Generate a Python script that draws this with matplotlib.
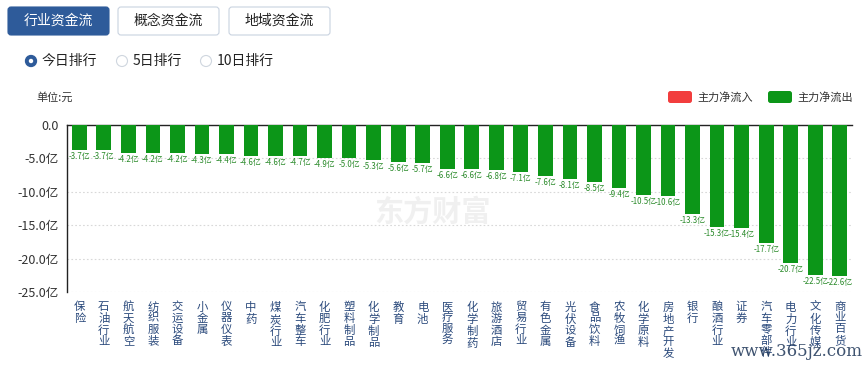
import matplotlib
matplotlib.use("Agg")
import matplotlib.pyplot as plt
from matplotlib.patches import FancyBboxPatch, Circle

plt.rcParams['font.family'] = ['Noto Sans CJK SC', 'DejaVu Sans']

industries = ['保险', '石油行业', '航天航空', '纺织服装', '交运设备', '小金属', '仪器仪表',
              '中药', '煤炭行业', '汽车整车', '化肥行业', '塑料制品', '化学制品', '教育',
              '电池', '医疗服务', '化学制药', '旅游酒店', '贸易行业', '有色金属', '光伏设备',
              '食品饮料', '农牧饲渔', '化学原料', '房地产开发', '银行', '酿酒行业', '证券',
              '汽车零部件', '电力行业', '文化传媒', '商业百货']
net_flow = [-3.7, -3.7, -4.2, -4.2, -4.2, -4.3, -4.4, -4.6, -4.6, -4.7, -4.9, -5.0,
            -5.3, -5.6, -5.7, -6.6, -6.6, -6.8, -7.1, -7.6, -8.1, -8.5, -9.4, -10.5,
            -10.6, -13.3, -15.3, -15.4, -17.7, -20.7, -22.5, -22.6]
yticks = [0, -5, -10, -15, -20, -25]
ytick_labels = ['0.0', '-5.0亿', '-10.0亿', '-15.0亿', '-20.0亿', '-25.0亿']
tabs = ['行业资金流', '概念资金流', '地域资金流']
ranks = ['今日排行', '5日排行', '10日排行']
legend_names = ['主力净流入', '主力净流出']

W, H = 868, 367
GREEN = '#0c9618'
RED = '#f23d3d'
NAVY = '#2b4a7c'
BLUE = '#2e5b9a'

fig = plt.figure(figsize=(W / 100, H / 100), dpi=100)

# background axes in pixel units (origin top-left) for the page widgets
bg = fig.add_axes([0, 0, 1, 1], zorder=-1)
bg.set_xlim(0, W)
bg.set_ylim(H, 0)
bg.axis('off')

# tab buttons
for i, (name, x0) in enumerate(zip(tabs, [8, 118, 229])):
    sel = i == 0
    bg.add_patch(FancyBboxPatch((x0, 7), 101, 28,
                                boxstyle='round,pad=0,rounding_size=3',
                                facecolor=BLUE if sel else 'white',
                                edgecolor=BLUE if sel else '#c9d3e0', lw=0.8))
    bg.text(x0 + 50.5, 21, name, ha='center', va='center', fontsize=10,
            color='white' if sel else '#222222')

# radio buttons
for i, (name, x0) in enumerate(zip(ranks, [31, 122, 206])):
    if i == 0:
        bg.add_patch(Circle((x0, 61), 4.2, facecolor='white', edgecolor=BLUE, lw=2.8))
    else:
        bg.add_patch(Circle((x0, 61), 5.5, facecolor='white', edgecolor='#cfd6df', lw=0.8))
    bg.text(x0 + 11, 61, name, ha='left', va='center', fontsize=10, color='#222222')

bg.text(36, 97, '单位:元', ha='left', va='center', fontsize=8, color='#333333')

# legend
for name, col, x0 in zip(legend_names, [RED, GREEN], [668, 768]):
    bg.add_patch(FancyBboxPatch((x0, 91), 24, 12,
                                boxstyle='round,pad=0,rounding_size=2.5',
                                facecolor=col, edgecolor='none'))
    bg.text(x0 + 29, 97, name, ha='left', va='center', fontsize=8, color='#333333')

# faint watermark behind the bars
bg.text(432, 212, '东方财富', ha='center', va='center', fontsize=21,
        fontweight='bold', style='italic', color='#f0f0f0')

# main chart
ax = fig.add_axes([67 / W, 1 - 292 / H, (852 - 67) / W, (292 - 125) / H])
ax.patch.set_alpha(0)
x = range(len(industries))
ax.bar(x, net_flow, width=0.6, color=GREEN, zorder=3)
for xi, v in zip(x, net_flow):
    ax.text(xi, v - 0.3, '%.1f亿' % v, ha='center', va='top', fontsize=5.7,
            color='#2a8a2a', zorder=4)

ax.set_xlim(-0.5, len(industries) - 0.5)
ax.set_ylim(-25, 0)
ax.set_yticks(yticks)
ax.set_yticklabels(ytick_labels, fontsize=9, color='#333333')
ax.set_xticks(list(x))
ax.set_xticklabels(['\n'.join(s) for s in industries], fontsize=8.2, color=NAVY,
                   va='top', linespacing=1.12)
ax.tick_params(axis='both', length=0)
ax.tick_params(axis='x', pad=7)
ax.tick_params(axis='y', pad=6)

for s in ['right', 'bottom']:
    ax.spines[s].set_visible(False)
for s in ['left', 'top']:
    ax.spines[s].set_color('#222222')
    ax.spines[s].set_linewidth(1.0)
ax.yaxis.grid(True, linestyle=(0, (1.5, 2)), color='#d8d8d8', lw=0.8, zorder=0)
ax.set_axisbelow(True)

# site watermark, bottom right
fig.text(863 / W, 1 - 352 / H, 'www.365jz.com', ha='right', va='center', fontsize=12,
         family='DejaVu Serif', color='#1d3557', alpha=0.85)

fig.savefig('out.png', dpi=100, facecolor='white')
